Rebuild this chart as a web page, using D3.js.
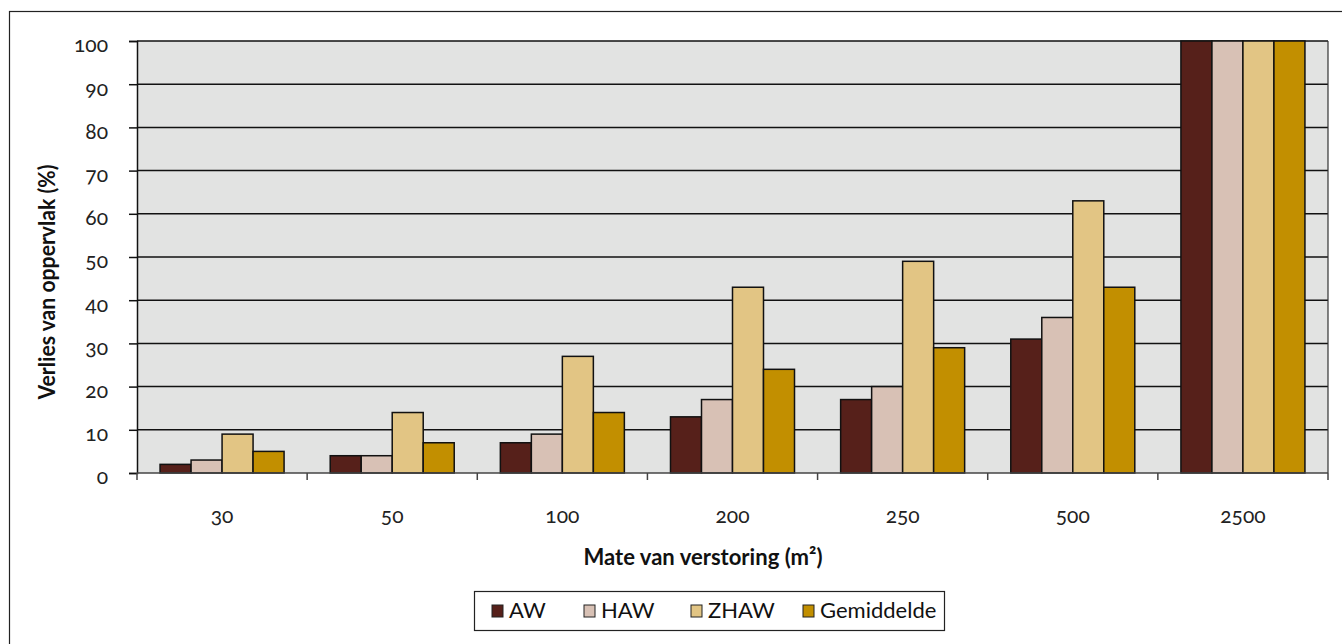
<!DOCTYPE html>
<html>
<head>
<meta charset="utf-8">
<script src="https://cdn.jsdelivr.net/npm/d3@7"></script>
<style>
  html, body { margin: 0; padding: 0; background: #fff; }
  svg { display: block; }
  .num { font-variant-numeric: oldstyle-nums; font-feature-settings: "onum" 1; }
</style>
</head>
<body>
<svg id="chart" width="1342" height="644"></svg>
<script>
// Disturbance size categories (m²)
const categories = ["30", "50", "100", "200", "250", "500", "2500"];
const seriesNames = ["AW", "HAW", "ZHAW", "Gemiddelde"];
const awValues = [2, 4, 7, 13, 17, 31, 100];
const hawValues = [3, 4, 9, 17, 20, 36, 100];
const zhawValues = [9, 14, 27, 43, 49, 63, 100];
const gemValues = [5, 7, 14, 24, 29, 43, 100];
const yTicks = [0, 10, 20, 30, 40, 50, 60, 70, 80, 90, 100];
const colors = ["#56201a", "#d8c1b5", "#e2c584", "#c28f00"];

const seriesValues = [awValues, hawValues, zhawValues, gemValues];

const svg = d3.select("#chart");
const font = "Lato, 'Open Sans', sans-serif";

// Outer frame
svg.append("rect")
  .attr("x", 9.5).attr("y", 11.5)
  .attr("width", 1400).attr("height", 700)
  .attr("fill", "#fff").attr("stroke", "#222").attr("stroke-width", 1.2);

const plot = { left: 137, right: 1328, top: 41, bottom: 473 };

const x0 = d3.scaleBand()
  .domain(categories)
  .range([plot.left, plot.right])
  .paddingInner(0).paddingOuter(0);

const x1 = d3.scaleBand()
  .domain(seriesNames)
  .range([0, x0.bandwidth()])
  .paddingOuter(0.744).paddingInner(0);

const y = d3.scaleLinear().domain([0, 100]).range([plot.bottom, plot.top]);

// Plot background
svg.append("rect")
  .attr("x", plot.left).attr("y", plot.top)
  .attr("width", plot.right - plot.left).attr("height", plot.bottom - plot.top)
  .attr("fill", "#e2e3e2");

// Gridlines
svg.append("g").selectAll("line")
  .data(yTicks.filter(t => t > 0))
  .join("line")
  .attr("x1", plot.left).attr("x2", plot.right)
  .attr("y1", d => y(d)).attr("y2", d => y(d))
  .attr("stroke", "#111").attr("stroke-width", 1.5);

// Right border of plot
svg.append("line")
  .attr("x1", plot.right).attr("x2", plot.right)
  .attr("y1", plot.top).attr("y2", plot.bottom)
  .attr("stroke", "#333").attr("stroke-width", 1.2);

// Bars
const groups = svg.append("g").selectAll("g")
  .data(categories)
  .join("g")
  .attr("transform", d => `translate(${x0(d)},0)`);

groups.selectAll("rect")
  .data((c, i) => seriesNames.map((s, j) => ({ s, j, v: seriesValues[j][i] })))
  .join("rect")
  .attr("x", d => x1(d.s))
  .attr("width", x1.bandwidth())
  .attr("y", d => y(d.v))
  .attr("height", d => y(0) - y(d.v))
  .attr("fill", d => colors[d.j])
  .attr("stroke", "#111").attr("stroke-width", 1.5);

// Y axis
const yAxis = svg.append("g")
  .attr("transform", `translate(${plot.left},0)`)
  .call(d3.axisLeft(y).tickValues(yTicks).tickSize(8).tickPadding(21));
yAxis.select(".domain").attr("stroke", "#111").attr("stroke-width", 1.5);
yAxis.selectAll(".tick line").attr("stroke", "#111").attr("stroke-width", 1.5);
yAxis.selectAll("text")
  .attr("class", "num")
  .attr("dy", "0.52em")
  .attr("font-family", font).attr("font-size", 21).attr("fill", "#222");

// X axis: ticks at category boundaries, labels centered in bands
const xAxisG = svg.append("g").attr("transform", `translate(0,${plot.bottom})`);
xAxisG.append("line")
  .attr("x1", plot.left).attr("x2", plot.right)
  .attr("stroke", "#444").attr("stroke-width", 1.5);
const boundaries = categories.map(c => x0(c)).concat([plot.right]);
xAxisG.selectAll("line.tk")
  .data(boundaries)
  .join("line").attr("class", "tk")
  .attr("x1", d => d).attr("x2", d => d)
  .attr("y1", 0).attr("y2", 7)
  .attr("stroke", "#444").attr("stroke-width", 1.5);
xAxisG.selectAll("text")
  .data(categories)
  .join("text")
  .attr("class", "num")
  .attr("x", d => x0(d) + x0.bandwidth() / 2)
  .attr("y", 50)
  .attr("text-anchor", "middle")
  .attr("font-family", font).attr("font-size", 21).attr("fill", "#222")
  .text(d => d);

// Axis titles
svg.append("text")
  .attr("transform", `translate(55,282) rotate(-90)`)
  .attr("text-anchor", "middle")
  .attr("font-family", font).attr("font-size", 22).attr("font-weight", "bold")
  .attr("fill", "#111")
  .attr("textLength", 235).attr("lengthAdjust", "spacingAndGlyphs")
  .text("Verlies van oppervlak (%)");

svg.append("text")
  .attr("x", 703).attr("y", 565)
  .attr("text-anchor", "middle")
  .attr("font-family", font).attr("font-size", 23).attr("font-weight", "bold")
  .attr("fill", "#111")
  .attr("textLength", 239).attr("lengthAdjust", "spacingAndGlyphs")
  .text("Mate van verstoring (m²)");

// Legend
const legend = svg.append("g");
legend.append("rect")
  .attr("x", 474.5).attr("y", 591.5).attr("width", 470).attr("height", 39)
  .attr("fill", "#fff").attr("stroke", "#222").attr("stroke-width", 1.2);
const legendX = [492, 584, 691, 803];
const items = legend.selectAll("g.item")
  .data(seriesNames)
  .join("g").attr("class", "item")
  .attr("transform", (d, i) => `translate(${legendX[i]},605)`);
items.append("rect")
  .attr("width", 11).attr("height", 12)
  .attr("fill", (d, i) => colors[i])
  .attr("stroke", "#222").attr("stroke-width", 1);
items.append("text")
  .attr("x", 17).attr("y", 13)
  .attr("font-family", font)
  .attr("font-size", 22).attr("fill", "#111")
  .text(d => d);
</script>
</body>
</html>
